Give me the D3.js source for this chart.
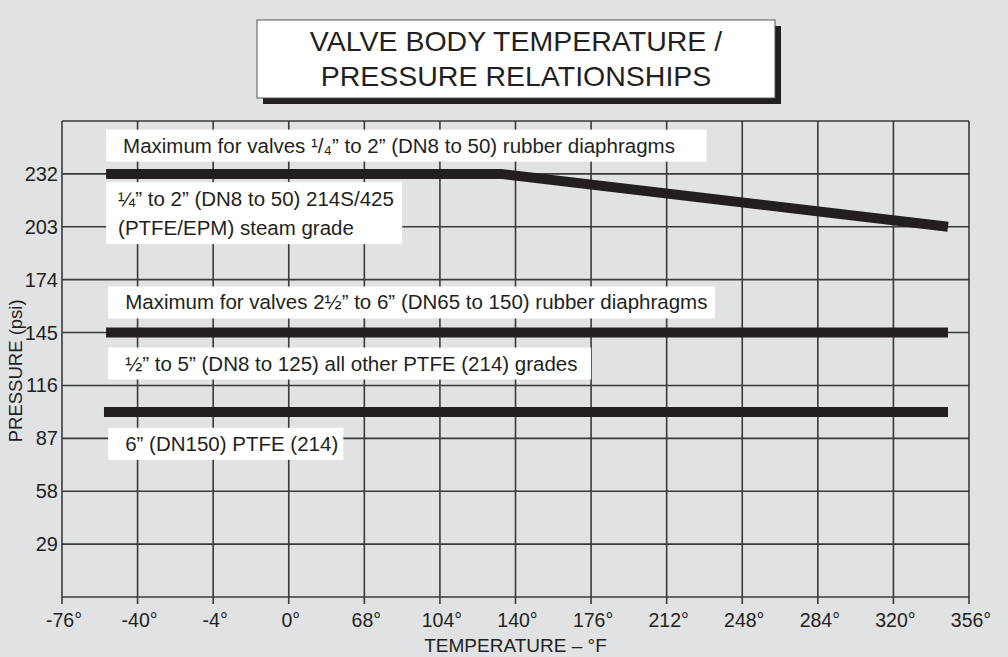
<!DOCTYPE html>
<html>
<head>
<meta charset="utf-8">
<script src="https://cdn.jsdelivr.net/npm/d3@7"></script>
<style>
  body { margin: 0; background: #e1e2e4; }
  svg { display: block; font-family: "Liberation Sans", Arial, sans-serif; }
</style>
</head>
<body>
<div id="target"></div>
<script>
// temperature axis (°F) - printed labels as on the original sheet
const tempTicks = [-76, -40, -4, 32, 68, 104, 140, 176, 212, 248, 284, 320, 356];
const tempLabels = ["-76°", "-40°", "-4°", "0°", "68°", "104°", "140°", "176°", "212°", "248°", "284°", "320°", "356°"];
// pressure axis (psi)
const pressTicks = [0, 29, 58, 87, 116, 145, 174, 203, 232, 261];
const pressLabels = ["", "29", "58", "87", "116", "145", "174", "203", "232", ""];

// rating curves: [temperature °F, pressure psi]
const smallValves = [[-55, 232], [133, 232], [346, 203]];
const largeValves = [[-55, 145], [346, 145]];
const ptfe6in = [[-56, 101.5], [346, 101.5]];

const noteLabels = [
  ["Maximum for valves \u00b9/\u2084\u201d to 2\u201d (DN8 to 50) rubber diaphragms"],
  ["\u00bc\u201d to 2\u201d (DN8 to 50) 214S/425", "(PTFE/EPM) steam grade"],
  ["Maximum for valves 2\u00bd\u201d to 6\u201d (DN65 to 150) rubber diaphragms"],
  ["\u00bd\u201d to 5\u201d (DN8 to 125) all other PTFE (214) grades"],
  ["6\u201d (DN150) PTFE (214)"]
];
const notePress = [247.5, 210.5, 161.5, 128, 84];   // where each note sits (psi)

function drawChart() {
  const width = 1008, height = 657;
  const margin = { top: 121, right: 39, bottom: 60, left: 62 };

  const svg = d3.select("#target").append("svg")
    .attr("width", width)
    .attr("height", height);

  svg.append("rect")
    .attr("width", width).attr("height", height)
    .attr("fill", "#e1e2e4");

  const x = d3.scaleLinear()
    .domain([-76, 356])
    .range([margin.left, width - margin.right]);
  const y = d3.scaleLinear()
    .domain([0, 261])
    .range([height - margin.bottom, margin.top]);

  // grid
  svg.append("g")
    .selectAll("line.v")
    .data(tempTicks)
    .join("line")
    .attr("x1", d => x(d)).attr("x2", d => x(d))
    .attr("y1", y(261)).attr("y2", y(0) + 7)
    .attr("stroke", "#3a3a3a").attr("stroke-width", 1.6);

  svg.append("g")
    .selectAll("line.h")
    .data(pressTicks)
    .join("line")
    .attr("x1", x(-76)).attr("x2", x(356))
    .attr("y1", d => y(d)).attr("y2", d => y(d))
    .attr("stroke", "#3a3a3a").attr("stroke-width", 1.6);

  // axis labels
  svg.append("g")
    .selectAll("text")
    .data(tempTicks)
    .join("text")
    .attr("x", d => x(d) + 2)
    .attr("y", y(0) + 30)
    .attr("text-anchor", "middle")
    .attr("font-size", 19.5)
    .attr("fill", "#231f20")
    .text((d, i) => tempLabels[i]);

  svg.append("g")
    .selectAll("text")
    .data(pressTicks)
    .join("text")
    .attr("x", x(-76) - 4)
    .attr("y", d => y(d) + 7)
    .attr("text-anchor", "end")
    .attr("font-size", 20)
    .attr("fill", "#231f20")
    .text((d, i) => pressLabels[i]);

  svg.append("text")
    .attr("x", x(140))
    .attr("y", height - 5)
    .attr("text-anchor", "middle")
    .attr("font-size", 19)
    .attr("fill", "#231f20")
    .text("TEMPERATURE \u2013 \u00b0F");

  svg.append("text")
    .attr("transform", `translate(22,${y(124)}) rotate(-90)`)
    .attr("text-anchor", "middle")
    .attr("font-size", 18.5)
    .attr("fill", "#231f20")
    .text("PRESSURE (psi)");

  // notes: white boxes behind text
  const noteBox = [
    { x0: -55, x1: 231 },
    { x0: -55, x1: 86 },
    { x0: -54, x1: 235 },
    { x0: -54, x1: 176 },
    { x0: -54, x1: 58 }
  ];
  const lineH = 29;
  noteLabels.forEach((lines, i) => {
    const cy = y(notePress[i]);
    const h = lines.length === 1 ? 32 : 62;
    const g = svg.append("g");
    g.append("rect")
      .attr("x", x(noteBox[i].x0))
      .attr("y", cy - h / 2)
      .attr("width", x(noteBox[i].x1) - x(noteBox[i].x0))
      .attr("height", h)
      .attr("fill", "#ffffff");
    g.selectAll("text")
      .data(lines)
      .join("text")
      .attr("x", x(noteBox[i].x0) + (lines.length === 1 ? 17 : 12))
      .attr("y", (d, j) => cy - (lines.length - 1) * lineH / 2 + j * lineH + 7)
      .attr("font-size", 20.5)
      .attr("fill", "#231f20")
      .text(d => d);
  });

  // rating lines
  const line = d3.line()
    .x(d => x(d[0]))
    .y(d => y(d[1]));

  [smallValves, largeValves, ptfe6in].forEach(data => {
    svg.append("path")
      .datum(data)
      .attr("d", line)
      .attr("fill", "none")
      .attr("stroke", "#231f20")
      .attr("stroke-width", 10)
      .attr("stroke-linejoin", "miter");
  });

  // title box with drop shadow
  const tb = { x: 257, y: 20, w: 518, h: 78 };
  svg.append("rect")
    .attr("x", tb.x + 6).attr("y", tb.y + 6)
    .attr("width", tb.w).attr("height", tb.h)
    .attr("fill", "#231f20");
  svg.append("rect")
    .attr("x", tb.x).attr("y", tb.y)
    .attr("width", tb.w).attr("height", tb.h)
    .attr("fill", "#ffffff")
    .attr("stroke", "#555").attr("stroke-width", 1);
  svg.append("text")
    .attr("x", tb.x + tb.w / 2).attr("y", tb.y + 31)
    .attr("text-anchor", "middle")
    .attr("font-size", 28.5)
    .attr("fill", "#231f20")
    .text("VALVE BODY TEMPERATURE /");
  svg.append("text")
    .attr("x", tb.x + tb.w / 2).attr("y", tb.y + 66)
    .attr("text-anchor", "middle")
    .attr("font-size", 28.5)
    .attr("fill", "#231f20")
    .text("PRESSURE RELATIONSHIPS");
}

drawChart();
</script>
</body>
</html>
